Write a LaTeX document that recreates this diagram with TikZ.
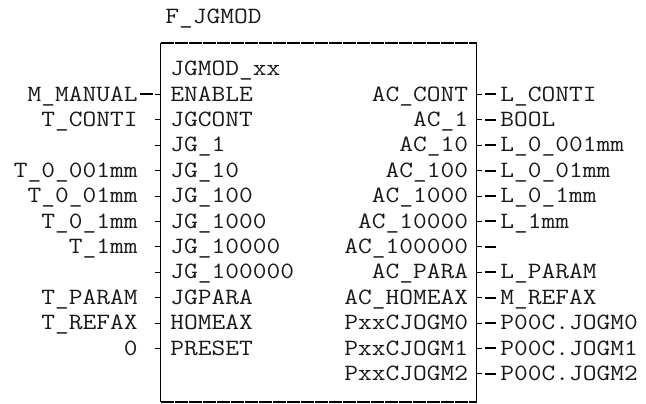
\documentclass[tikz,border=0pt]{standalone}
\usepackage{fontspec}
\setmonofont{Latin Modern Mono}[FakeStretch=1.143]
\usetikzlibrary{calc}
\tikzset{
  lbl/.style={font=\ttfamily\fontsize{11.67}{14}\selectfont, inner sep=0pt, text=black!90},
  edge/.style={line width=0.5pt, black},
  rim/.style={line width=1pt, black, dash pattern=on 6.6pt off 0.4pt},
  stub/.style={line width=0.5pt, black},
  wire/.style={line width=1pt, black},
}

\begin{document}
\begin{tikzpicture}[x=0.5pt, y=-0.5pt]
  \useasboundingbox (0,0) rectangle (646,403);
  \node[lbl, anchor=base west] (title) at (165,23.6) {F\_JGMOD};
  % block outline
  \coordinate (nw) at (160.5,43);
  \coordinate (ne) at (476.5,43);
  \coordinate (sw) at (160.5,401.5);
  \coordinate (se) at (476.5,401.5);
  \draw[rim] (nw) -- (ne);
  \draw[rim] (sw) -- (se);
  \draw[edge] (nw) -- (sw);
  \draw[edge] (ne) -- (se);
  \node[lbl, anchor=base west] (inst) at (170,75.6) {JGMOD\_xx};
  % inputs
  \foreach \i/\pin/\arg in {1/ENABLE/M\_MANUAL, 2/JGCONT/T\_CONTI, 3/JG\_1/{}, 4/JG\_10/T\_0\_001mm,
      5/JG\_100/T\_0\_01mm, 6/JG\_1000/T\_0\_1mm, 7/JG\_10000/T\_1mm, 8/JG\_100000/{},
      9/JGPARA/T\_PARAM, 10/HOMEAX/T\_REFAX, 11/PRESET/0} {
    \coordinate (pl\i) at (160.5, 69+25.4*\i);
    \node[lbl, anchor=base west] (pnl\i) at (170, 75.6+25.4*\i) {\pin};
    \node[lbl, anchor=base east] (arl\i) at (138, 75.6+25.4*\i) {\arg};
    \draw[stub] (pl\i) -- ++(-5.5,0);
  }
  \draw[wire] ($(arl1.east |- pl1)+(2,0)$) -- ($(pl1)+(-7.5,0)$);
  % outputs
  \foreach \i/\pin/\arg in {1/AC\_CONT/L\_CONTI, 2/AC\_1/BOOL, 3/AC\_10/L\_0\_001mm, 4/AC\_100/L\_0\_01mm,
      5/AC\_1000/L\_0\_1mm, 6/AC\_10000/L\_1mm, 7/AC\_100000/{}, 8/AC\_PARA/L\_PARAM,
      9/AC\_HOMEAX/M\_REFAX, 10/PxxCJOGM0/P00C.JOGM0, 11/PxxCJOGM1/P00C.JOGM1, 12/PxxCJOGM2/P00C.JOGM2} {
    \coordinate (pr\i) at (476.5, 69+25.4*\i);
    \node[lbl, anchor=base east] (pnr\i) at (468.5, 75.6+25.4*\i) {\pin};
    \node[lbl, anchor=base west] (arr\i) at (500, 75.6+25.4*\i) {\arg};
    \draw[stub] (pr\i) -- ++(5.5,0);
    \draw[wire] ($(pr\i)+(8.5,0)$) -- ($(arr\i.west |- pr\i)+(-4,0)$);
  }
\end{tikzpicture}
\end{document}
